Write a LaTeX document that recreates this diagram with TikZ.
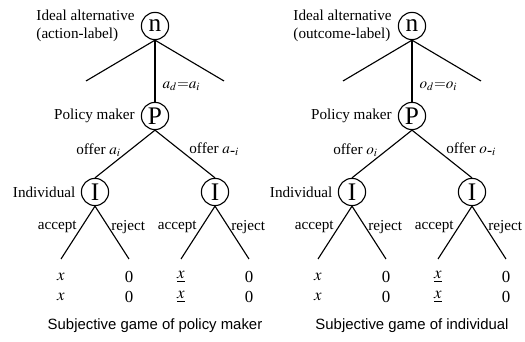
\documentclass[tikz,border=0pt]{standalone}
\usepackage{mathptmx}
\usepackage{fontspec}
\setmainfont{Liberation Serif}
\setsansfont{Liberation Sans}
\usetikzlibrary{positioning,calc}
\tikzset{gnode/.style={draw,circle,minimum size=0.68cm,inner sep=0pt,font=\fontsize{18}{18}\selectfont}}
\tikzset{tlabel/.style={font=\fontsize{10.8}{12.4}\selectfont,inner sep=1pt}}
\tikzset{payoff/.style={font=\fontsize{12}{14}\selectfont,inner sep=0pt}}
\tikzset{caption/.style={font=\sffamily\fontsize{10.6}{12}\selectfont}}

\begin{document}
\begin{tikzpicture}[line width=0.8pt]
\useasboundingbox (0,0) rectangle (13.125,8.55);

% subjective game of policy maker
\begin{scope}
    \node[gnode] (nL) at (3.875,7.9) {n};
    \node[gnode] (PL) at (3.875,5.65) {P};
    \node[gnode] (IL1) at (2.375,3.75) {I};
    \node[gnode] (IL2) at (5.375,3.75) {I};

    \node[tlabel,align=left,left=3pt of nL] (idL) {Ideal alternative\\(action-label)};
    \node[tlabel,left=3pt of PL] (pmL) {Policy maker};
    \node[tlabel,left=2.5pt of IL1] (indL) {Individual};

    \coordinate (nL1) at ($(nL)+(-1.725,-1.375)$);
    \coordinate (nL2) at ($(nL)+(1.725,-1.375)$);

    \coordinate (aL1) at ($(IL1)+(-0.85,-1.675)$);
    \coordinate (rL1) at ($(IL1)+(0.85,-1.675)$);
    \coordinate (aL2) at ($(IL2)+(-0.85,-1.675)$);
    \coordinate (rL2) at ($(IL2)+(0.85,-1.675)$);

    \draw (nL.south) -- (nL1)
          (nL.south) -- (nL2);
    \draw (nL.south) -- node[tlabel,pos=.75,right=4pt] {$a_d{=}a_i$} (PL.north);

    \draw (PL.south) -- node[tlabel,pos=.42,left=5pt] {offer $a_i$} (IL1.north);
    \draw (PL.south) -- node[tlabel,pos=.4,right=6pt] {offer $a_{\mbox{-}i}$} (IL2.north);

    \draw (IL1.south) -- node[tlabel,pos=.4,left=2pt] {accept} (aL1);
    \draw (IL1.south) -- node[tlabel,pos=.4,right=0.5pt] {reject} (rL1);
    \draw (IL2.south) -- node[tlabel,pos=.4,left=2pt] {accept} (aL2);
    \draw (IL2.south) -- node[tlabel,pos=.4,right=0.5pt] {reject} (rL2);

    \node[payoff] (pL11) at ($(aL1)+(0,-0.45)$) {$x$};
    \node[payoff] (pL12) at ($(aL1)+(0,-0.95)$) {$x$};
    \node[payoff] (pL21) at ($(rL1)+(0,-0.45)$) {0};
    \node[payoff] (pL22) at ($(rL1)+(0,-0.95)$) {0};
    \node[payoff] (pL31) at ($(aL2)+(0,-0.45)$) {$\underline{x}$};
    \node[payoff] (pL32) at ($(aL2)+(0,-0.95)$) {$\underline{x}$};
    \node[payoff] (pL41) at ($(rL2)+(0,-0.45)$) {0};
    \node[payoff] (pL42) at ($(rL2)+(0,-0.95)$) {0};

    \node[caption] (capL) at (3.875,0.4) {Subjective game of policy maker};
\end{scope}

% subjective game of individual
\begin{scope}[xshift=6.425cm]
    \node[gnode] (nR) at (3.875,7.9) {n};
    \node[gnode] (PR) at (3.875,5.65) {P};
    \node[gnode] (IR1) at (2.375,3.75) {I};
    \node[gnode] (IR2) at (5.375,3.75) {I};

    \node[tlabel,align=left,left=3pt of nR] (idR) {Ideal alternative\\(outcome-label)};
    \node[tlabel,left=3pt of PR] (pmR) {Policy maker};
    \node[tlabel,left=2.5pt of IR1] (indR) {Individual};

    \coordinate (nR1) at ($(nR)+(-1.725,-1.375)$);
    \coordinate (nR2) at ($(nR)+(1.725,-1.375)$);

    \coordinate (aR1) at ($(IR1)+(-0.85,-1.675)$);
    \coordinate (rR1) at ($(IR1)+(0.85,-1.675)$);
    \coordinate (aR2) at ($(IR2)+(-0.85,-1.675)$);
    \coordinate (rR2) at ($(IR2)+(0.85,-1.675)$);

    \draw (nR.south) -- (nR1)
          (nR.south) -- (nR2);
    \draw (nR.south) -- node[tlabel,pos=.75,right=4pt] {$o_d{=}o_i$} (PR.north);

    \draw (PR.south) -- node[tlabel,pos=.42,left=5pt] {offer $o_i$} (IR1.north);
    \draw (PR.south) -- node[tlabel,pos=.4,right=6pt] {offer $o_{\mbox{-}i}$} (IR2.north);

    \draw (IR1.south) -- node[tlabel,pos=.4,left=2pt] {accept} (aR1);
    \draw (IR1.south) -- node[tlabel,pos=.4,right=0.5pt] {reject} (rR1);
    \draw (IR2.south) -- node[tlabel,pos=.4,left=2pt] {accept} (aR2);
    \draw (IR2.south) -- node[tlabel,pos=.4,right=0.5pt] {reject} (rR2);

    \node[payoff] (pR11) at ($(aR1)+(0,-0.45)$) {$x$};
    \node[payoff] (pR12) at ($(aR1)+(0,-0.95)$) {$x$};
    \node[payoff] (pR21) at ($(rR1)+(0,-0.45)$) {0};
    \node[payoff] (pR22) at ($(rR1)+(0,-0.95)$) {0};
    \node[payoff] (pR31) at ($(aR2)+(0,-0.45)$) {$\underline{x}$};
    \node[payoff] (pR32) at ($(aR2)+(0,-0.95)$) {$\underline{x}$};
    \node[payoff] (pR41) at ($(rR2)+(0,-0.45)$) {0};
    \node[payoff] (pR42) at ($(rR2)+(0,-0.95)$) {0};

    \node[caption] (capR) at (3.875,0.4) {Subjective game of individual};
\end{scope}

\end{tikzpicture}
\end{document}
